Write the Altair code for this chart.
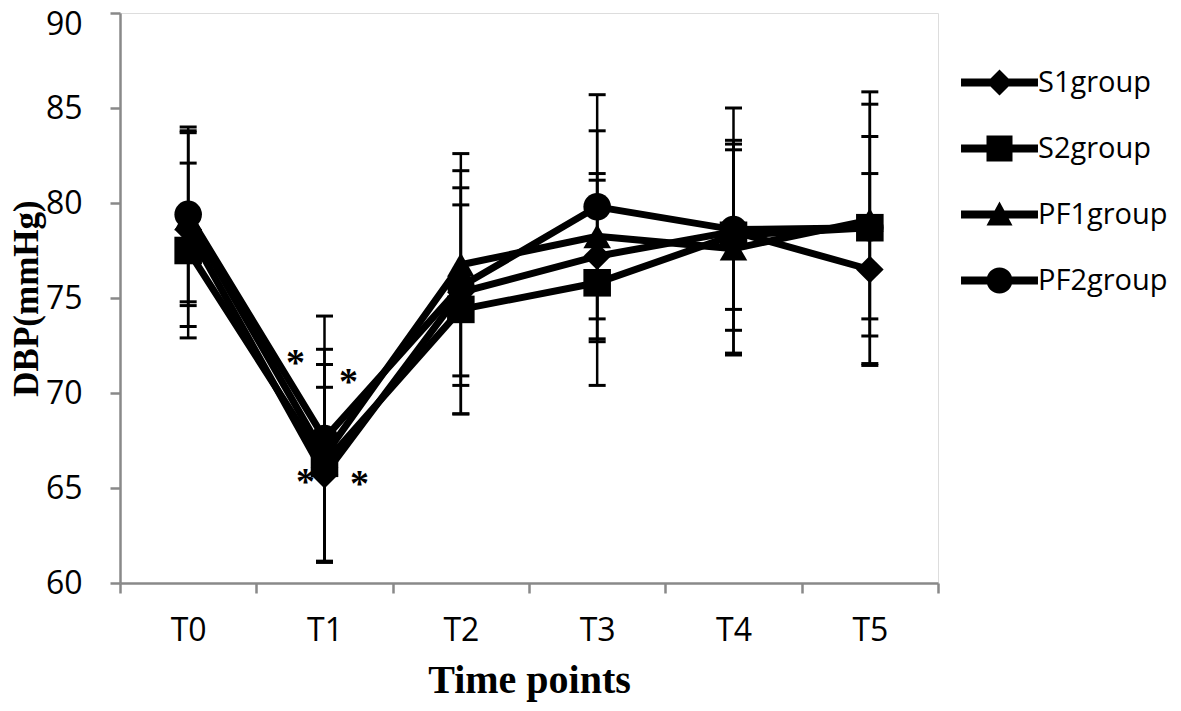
import altair as alt
import pandas as pd

times = ["T0", "T1", "T2", "T3", "T4", "T5"]
groups = ["S1group", "S2group", "PF1group", "PF2group"]

s1_mean = [78.6, 65.7, 75.3, 77.2, 78.5, 76.5]
s1_sd = [5.1, 4.6, 6.4, 4.35, 6.5, 5.05]
s2_mean = [77.5, 66.3, 74.4, 75.8, 78.3, 78.7]
s2_sd = [4.6, 5.2, 5.5, 5.4, 5.0, 7.15]
pf1_mean = [79.2, 66.7, 76.75, 78.25, 77.6, 79.1]
pf1_sd = [4.6, 5.6, 5.85, 5.55, 5.5, 6.1]
pf2_mean = [79.4, 67.6, 75.6, 79.8, 78.6, 78.7]
pf2_sd = [4.6, 6.45, 5.2, 5.9, 4.2, 4.8]

star_y = [71.84, 70.84, 65.58, 65.47]

means = [s1_mean, s2_mean, pf1_mean, pf2_mean]
sds = [s1_sd, s2_sd, pf1_sd, pf2_sd]
rows = []
for g, m, s in zip(groups, means, sds):
    for t, mv, sv in zip(times, m, s):
        rows.append({"group": g, "time": t, "mean": mv, "sd": sv})
df = pd.DataFrame(rows)

shapes = ["diamond", "square", "triangle-up", "circle"]
bar = "M-2.96,-0.3 L2.96,-0.3 L2.96,0.3 L-2.96,0.3 Z "
legend_paths = [
    bar + "M0,-1 L1,0 L0,1 L-1,0 Z",
    bar + "M-1,-1 L1,-1 L1,1 L-1,1 Z",
    bar + "M0,-1 L1,0.85 L-1,0.85 Z",
    bar + "M-1,0 A1,1 0 1,1 1,0 A1,1 0 1,1 -1,0 Z",
]

AX = "#898989"
x_enc = alt.X(
    "time:N", sort=times,
    scale=alt.Scale(paddingInner=0, paddingOuter=0),
    axis=alt.Axis(
        title="Time points", labelAngle=0, tickBand="extent",
        domainColor=AX, tickColor=AX, domainWidth=2.5, tickWidth=2.5, tickSize=10,
        labelFont="Open Sans", labelFontSize=32, labelColor="black", labelPadding=22,
        titleFont="Liberation Serif", titleFontSize=40, titleFontWeight="bold",
        titleColor="black", titlePadding=14,
    ),
)
y_scale = alt.Scale(domain=[60, 90], zero=False, nice=False)
y_axis = alt.Axis(
    title="DBP(mmHg)", values=[60, 65, 70, 75, 80, 85, 90], grid=False,
    domainColor=AX, tickColor=AX, domainWidth=2.5, tickWidth=2.5, tickSize=10,
    labelFont="Open Sans", labelFontSize=32, labelColor="black", labelPadding=28,
    labelOffset={"condition": {"test": "datum.value == 90", "value": 11}, "value": 0},
    titleFont="Liberation Serif", titleFontSize=35, titleFontWeight="bold",
    titleColor="black", titlePadding=1,
)

base = alt.Chart(df).transform_calculate(
    lo="datum.mean - datum.sd", hi="datum.mean + datum.sd"
)

rules = base.mark_rule(color="black", strokeWidth=2.5).encode(
    x=x_enc, y=alt.Y("lo:Q", scale=y_scale, axis=y_axis), y2="hi:Q", detail="group:N"
)
caps_hi = base.mark_tick(color="black", size=17, thickness=3, opacity=1).encode(
    x=alt.X("time:N", sort=times), y=alt.Y("hi:Q"), detail="group:N"
)
caps_lo = base.mark_tick(color="black", size=17, thickness=3, opacity=1).encode(
    x=alt.X("time:N", sort=times), y=alt.Y("lo:Q"), detail="group:N"
)
lines = base.mark_line(color="black", strokeWidth=7).encode(
    x=alt.X("time:N", sort=times), y=alt.Y("mean:Q"), detail="group:N"
)
points = base.mark_point(filled=True, color="black", opacity=1, size=760).encode(
    x=alt.X("time:N", sort=times), y=alt.Y("mean:Q"),
    shape=alt.Shape("group:N", scale=alt.Scale(domain=groups, range=shapes), legend=None),
)
legend_layer = base.mark_point(filled=True, color="black", opacity=0, size=10).encode(
    x=alt.X("time:N", sort=times), y=alt.Y("mean:Q"),
    shape=alt.Shape(
        "group:N",
        scale=alt.Scale(domain=groups, range=legend_paths),
        legend=alt.Legend(
            title=None, orient="none", legendX=865, legendY=55, padding=0,
            symbolSize=676, symbolFillColor="black", symbolStrokeColor="black",
            symbolStrokeWidth=0, symbolOpacity=1, labelOffset=24,
            labelFont="Open Sans", labelFontSize=29, labelColor="black",
            rowPadding=36,
        ),
    ),
)

star_dx = [-29, 24, -19, 35]
stars = []
for yv, dxv in zip(star_y, star_dx):
    sdf = pd.DataFrame({"time": ["T1"], "y": [yv]})
    stars.append(
        alt.Chart(sdf).mark_text(
            text="*", font="Liberation Serif", fontWeight="bold", fontSize=38,
            color="black", dx=dxv, dy=6, baseline="middle", align="center",
        ).encode(x=alt.X("time:N", sort=times), y=alt.Y("y:Q"))
    )

chart = alt.layer(rules, caps_hi, caps_lo, lines, points, legend_layer, *stars).resolve_scale(
    shape="independent"
).properties(
    width=818, height=570,
    autosize=alt.AutoSizeParams(type="none"),
    padding={"left": 112, "top": 5, "right": 235, "bottom": 120},
).configure_view(stroke=None).configure(background="white")

chart.save("out.html", embed_options={"renderer": "svg", "actions": False})
